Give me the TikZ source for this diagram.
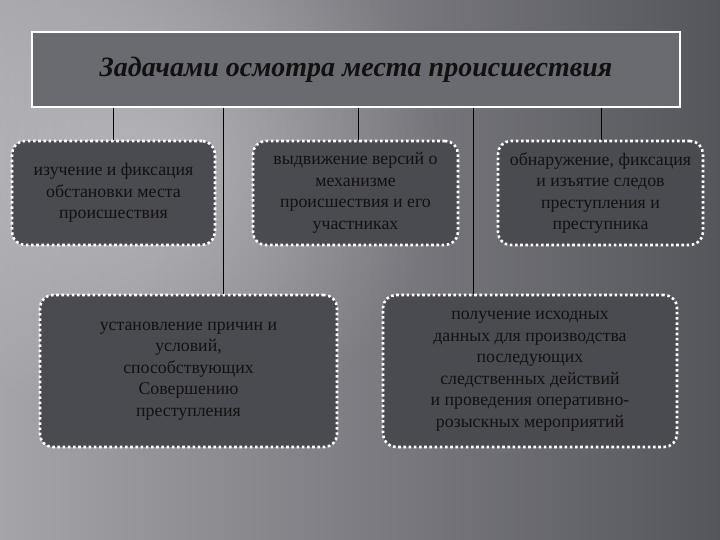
\documentclass[tikz,border=0pt]{standalone}
\usepackage{fontspec}
\setmainfont{Liberation Serif}
\usetikzlibrary{fadings}
\tikzfading[name=radfade, inner color=transparent!0, outer color=transparent!100]
\definecolor{bgL}{HTML}{A4A4A9}
\definecolor{bgR}{HTML}{55555C}
\definecolor{hdrfill}{HTML}{6A6A71}
\definecolor{boxfill}{HTML}{4A4A51}
\definecolor{txt}{HTML}{111111}
\begin{document}
\begin{tikzpicture}[x=1pt,y=-1pt,
  box/.style={draw=white, line width=2.6pt, dash pattern=on 2.6pt off 2.6pt,
    fill=boxfill, rounded corners=13pt, inner sep=0pt, align=center,
    font=\fontsize{17.8}{21.5}\selectfont, text=txt},
  link/.style={black, line width=0.9pt}]
\useasboundingbox (0,0) rectangle (720,540);
\shade[left color=bgL, right color=bgR] (0,0) rectangle (720,540);
\fill[white, opacity=0.3, path fading=radfade] (160,160) circle (280);
\node[draw=white, line width=2pt, fill=hdrfill, minimum width=648pt,
  minimum height=75pt, inner sep=0pt, text=txt,
  font=\fontsize{28}{32}\selectfont\bfseries\itshape] (hdr) at (356,69.5)
  {Задачами осмотра места происшествия};
\node[box, minimum width=203pt, minimum height=104pt] (b1) at (113.5,193)
  {изучение и фиксация\\обстановки места\\происшествия};
\node[box, minimum width=205pt, minimum height=104pt] (b2) at (355.5,193)
  {выдвижение версий о\\механизме\\происшествия и его\\участниках};
\node[box, minimum width=205pt, minimum height=104pt] (b3) at (600.5,193)
  {обнаружение, фиксация\\и изъятие следов\\преступления и\\преступника};
\node[box, minimum width=297pt, minimum height=152pt] (b4) at (188.5,371)
  {установление причин и\\условий,\\способствующих\\Совершению\\преступления};
\node[box, minimum width=294pt, minimum height=152pt] (b5) at (530,371)
  {получение исходных\\данных для производства\\последующих\\следственных действий\\и проведения оперативно-\\розыскных мероприятий};
\coordinate (x1) at (113,0);
\coordinate (x2) at (223,0);
\coordinate (x3) at (358,0);
\coordinate (x4) at (473,0);
\coordinate (x5) at (601,0);
\draw[link] (x1 |- hdr.south) -- (x1 |- b1.north);
\draw[link] (x2 |- hdr.south) -- (x2 |- b4.north);
\draw[link] (x3 |- hdr.south) -- (x3 |- b2.north);
\draw[link] (x4 |- hdr.south) -- (x4 |- b5.north);
\draw[link] (x5 |- hdr.south) -- (x5 |- b3.north);
\end{tikzpicture}
\end{document}
